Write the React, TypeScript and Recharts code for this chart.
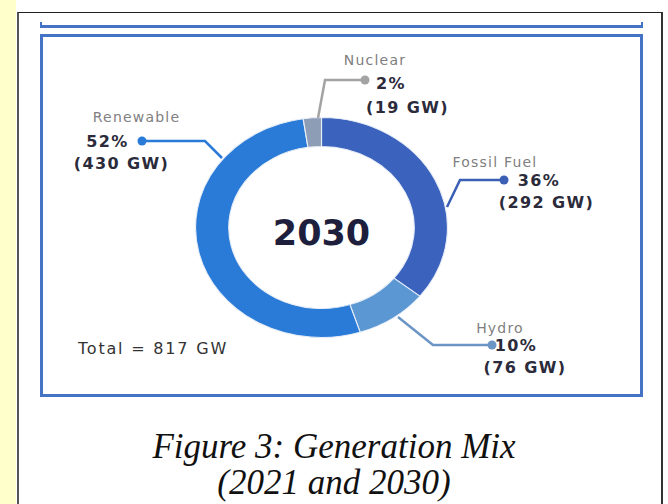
import { Pie, PieChart, Cell } from "recharts";

// 2030 generation mix, clockwise from 12 o'clock
const sources = ["Fossil Fuel", "Hydro", "Renewable", "Nuclear"];
const capacityGw = [292, 76, 430, 19];
const sharePct = [36, 10, 52, 2];
const YEAR = "2030";

const COLORS = ["#3b62bd", "#5b97d3", "#2a7bd7", "#8e9db6"];
const LEADER = ["#3a5fb5", "#6b95c4", "#2a7bd7", "#a3a3a3"];

// leader geometry, offsets from the donut centre (px)
const LAYOUT = [
  { ring: [125.5, -20.5], elbow: [138.5, -47.5], dot: [182.5, -47.5], name: [173.5, -66], pct: [217.5, -47.5], gw: [225, -25.5] },
  { ring: [76.5, 89.5], elbow: [111.5, 117.5], dot: [170.5, 117.5], name: [178.5, 100], pct: [194.5, 118], gw: [203.5, 139.5] },
  { ring: [-99.5, -69.5], elbow: [-116.5, -86.5], dot: [-179.5, -86.5], name: [-185, -110.5], pct: [-214, -86.5], gw: [-200, -64.5] },
  { ring: [-3.5, -109.5], elbow: [3.5, -147.5], dot: [43.5, -147.5], name: [53.5, -167.5], pct: [69.5, -144], gw: [86, -120.5] },
];

const CX = 321.5;
const CY = 227.5;
const STRETCH = 1.145;
const FONT = "'DejaVu Sans', 'Noto Sans', sans-serif";

const data = sources.map((s, i) => ({ name: s, gw: capacityGw[i], pct: sharePct[i] }));
const total = capacityGw.reduce((a, b) => a + b, 0);

function Annotation(props: any) {
  const { cx, cy, index } = props;
  const l = LAYOUT[index];
  const p = (o: number[]) => [cx + o[0], cy + o[1]];
  const [rx, ry] = p(l.ring);
  const [ex, ey] = p(l.elbow);
  const [dx, dy] = p(l.dot);
  const d = data[index];
  const bold = { textAnchor: "middle" as const, dominantBaseline: "central" as const, fontFamily: FONT, fontSize: 16, fontWeight: 700, letterSpacing: 1.4, fill: "#2b2b3b" };
  return (
    <g>
      <polyline points={`${rx},${ry} ${ex},${ey} ${dx},${dy}`} fill="none" stroke={LEADER[index]} strokeWidth={2.5} />
      <circle cx={dx} cy={dy} r={4.5} fill={LEADER[index]} />
      <text x={p(l.name)[0]} y={p(l.name)[1]} textAnchor="middle" dominantBaseline="central" fontFamily={FONT} fontSize={14} letterSpacing={1.2} fill="#808080">
        {d.name}
      </text>
      <text x={p(l.pct)[0]} y={p(l.pct)[1]} {...bold}>
        {d.pct}%
      </text>
      <text x={p(l.gw)[0]} y={p(l.gw)[1]} {...bold}>
        ({d.gw} GW)
      </text>
      {index === 0 && (
        <text x={cx} y={cy + 5} textAnchor="middle" dominantBaseline="central" fontFamily={FONT} fontSize={35} fontWeight={700} fill="#1e1f3d">
          {YEAR}
        </text>
      )}
    </g>
  );
}

export default function App() {
  return (
    <div style={{ position: "absolute", left: 0, top: 0, width: 668, height: 504, background: "#fff", overflow: "hidden" }}>
      <div style={{ position: "absolute", left: 0, top: 0, width: 16, height: 504, background: "#ffffcc" }} />
      <div
        style={{
          position: "absolute", left: 17, top: 12, width: 646, height: 520, boxSizing: "border-box",
          borderLeft: "2px solid #555", borderTop: "1px solid #222", borderRight: "2px solid #333",
        }}
      />
      <div style={{ position: "absolute", left: 40, top: 25, width: 603, height: 3, background: "#4472c4" }} />
      <div style={{ position: "absolute", left: 40, top: 22, width: 2, height: 5, background: "#4472c4" }} />
      <div style={{ position: "absolute", left: 641, top: 22, width: 2, height: 5, background: "#4472c4" }} />
      <div
        style={{
          position: "absolute", left: 40, top: 34, width: 603, height: 363, boxSizing: "border-box",
          border: "3px solid #4472c4",
        }}
      />

      {/* ring, stretched horizontally like the source image */}
      <div style={{ position: "absolute", left: 0, top: 0, transform: `scaleX(${STRETCH})`, transformOrigin: `${CX}px ${CY}px` }}>
        <PieChart width={668} height={504} margin={{ top: 0, right: 0, bottom: 0, left: 0 }}>
          <Pie
            data={data}
            dataKey="gw"
            cx={CX}
            cy={CY}
            innerRadius={81}
            outerRadius={110}
            startAngle={90}
            endAngle={-270}
            stroke="#e8eef8"
            strokeWidth={1}
            isAnimationActive={false}
          >
            {data.map((_, i) => (
              <Cell key={i} fill={COLORS[i]} />
            ))}
          </Pie>
        </PieChart>
      </div>

      {/* labels, unstretched */}
      <div style={{ position: "absolute", left: 0, top: 0 }}>
        <PieChart width={668} height={504} margin={{ top: 0, right: 0, bottom: 0, left: 0 }}>
          <Pie
            data={data}
            dataKey="gw"
            cx={CX}
            cy={CY}
            innerRadius={81}
            outerRadius={110}
            startAngle={90}
            endAngle={-270}
            fill="none"
            stroke="none"
            label={Annotation}
            labelLine={false}
            isAnimationActive={false}
          />
        </PieChart>
      </div>

      <div
        style={{
          position: "absolute", left: 78, top: 349, transform: "translateY(-50%)", fontFamily: FONT, fontSize: 16,
          letterSpacing: 1.8, color: "#333", whiteSpace: "nowrap", lineHeight: "20px",
        }}
      >
        Total = {total} GW
      </div>

      <div
        style={{
          position: "absolute", left: 10, width: 648, top: 429, textAlign: "center",
          fontFamily: "'Liberation Serif', serif", fontStyle: "italic", fontSize: 35, lineHeight: "36px", color: "#111",
        }}
      >
        Figure 3: Generation Mix
        <br />
        (2021 and 2030)
      </div>
    </div>
  );
}
